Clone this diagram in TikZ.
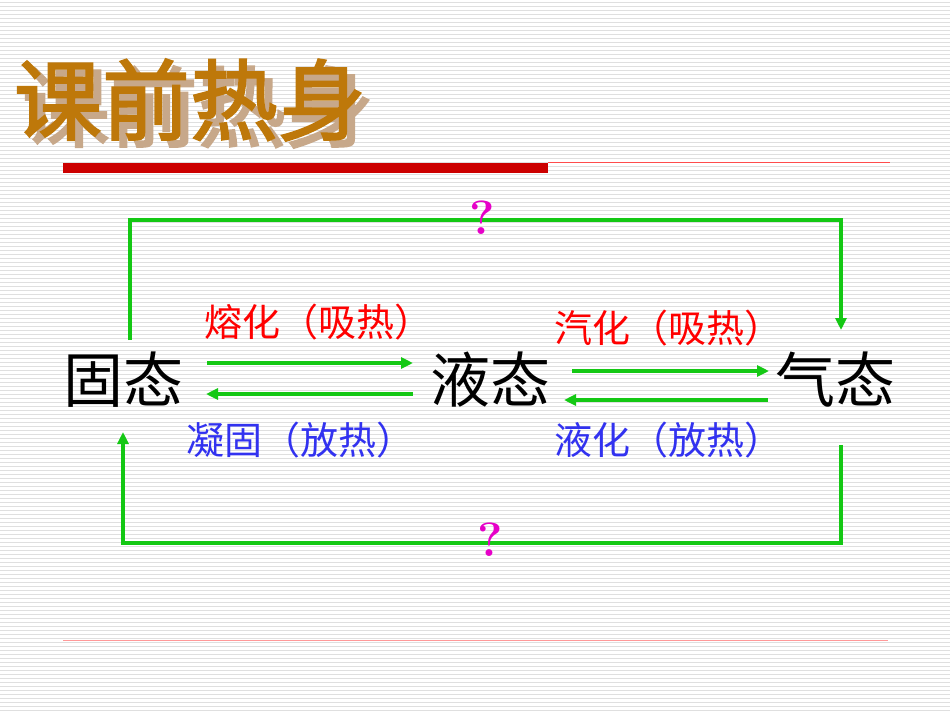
\documentclass[tikz,border=0pt]{standalone}
\usepackage{fontspec}
\newfontfamily\cjk{Noto Sans CJK SC}
\newfontfamily\cjkb[FakeBold=2]{Noto Sans CJK SC}
\usetikzlibrary{arrows.meta}
\definecolor{grn}{RGB}{20,200,20}
\definecolor{blu}{RGB}{50,50,240}
\definecolor{mag}{RGB}{230,0,200}
\tikzset{
  state/.style={font=\cjk\fontsize{60}{60}\selectfont, inner sep=0pt},
  lbl/.style={font=\cjk\fontsize{38}{38}\selectfont, inner sep=0pt},
  arr/.style={grn, line width=4pt, -{Triangle[length=12pt,width=11pt]}},
  qm/.style={mag, font=\bfseries\fontsize{48}{48}\selectfont, inner sep=0pt}
}
\begin{document}
\begin{tikzpicture}[x=1pt,y=-1pt]
\useasboundingbox (0,0) rectangle (950,713);
\fill[white] (0,0) rectangle (950,713);
\foreach \y in {2,6,...,712} \draw[gray!25, line width=0.8pt] (0,\y) -- (950,\y);
% title
\node[font=\cjkb\fontsize{88}{88}\selectfont, text=brown!60!white!80!gray, inner sep=0pt] (tsh) at (198,107) {课前热身};
\node[font=\cjkb\fontsize{88}{88}\selectfont, text={rgb,255:red,190;green,120;blue,10}, inner sep=0pt] (title) at (190,100) {课前热身};
\fill[red!80!black] (63,163) rectangle (548,173);
\draw[red!70, line width=0.8pt] (548,162) -- (890,162);
\draw[red!40, line width=0.8pt] (63,640) -- (888,640);
% states
\node[state] (s) at (123,380) {固态};
\node[state] (l) at (490,380) {液态};
\node[state] (g) at (835,380) {气态};
% labels
\node[lbl, red] (m) at (318,322) {熔化（吸热）};
\node[lbl, blu] (f) at (300,440) {凝固（放热）};
\node[lbl, red] (v) at (668,328) {汽化（吸热）};
\node[lbl, blu] (c) at (668,440) {液化（放热）};
% arrows
\coordinate (a1) at (207,363); \coordinate (a2) at (413,363);
\coordinate (b1) at (413,394); \coordinate (b2) at (206,394);
\coordinate (c1) at (572,371); \coordinate (c2) at (769,371);
\coordinate (d1) at (768,400); \coordinate (d2) at (564,400);
\draw[arr] (a1) -- (a2);
\draw[arr] (b1) -- (b2);
\draw[arr] (c1) -- (c2);
\draw[arr] (d1) -- (d2);
\coordinate (t1) at (130,340); \coordinate (t2) at (841,330);
\draw[arr, line width=3.5pt] (t1) |- (485,220) -| (t2);
\coordinate (u1) at (841,445); \coordinate (u2) at (123,432);
\draw[arr, line width=3.5pt] (u1) |- (485,543) -| (u2);
\node[qm] (q1) at (482,218) {?};
\node[qm] (q2) at (490,540) {?};
\end{tikzpicture}
\end{document}
